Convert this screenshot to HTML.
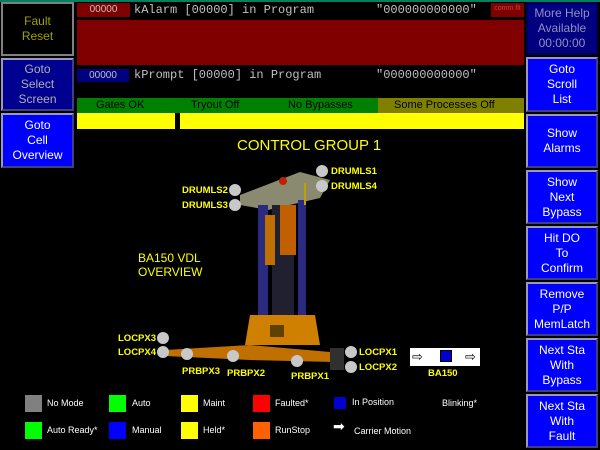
<!DOCTYPE html>
<html><head><meta charset="utf-8"><style>
*{margin:0;padding:0;box-sizing:border-box}
body{width:600px;height:450px;background:#000;position:relative;overflow:hidden;font-family:"Liberation Sans",sans-serif}
.a{position:absolute}
.btn{position:absolute;display:flex;align-items:center;justify-content:center;text-align:center;font-size:12px;line-height:15px;color:#fff;background:#0000ff;border:2px solid #9a9ab8;border-right-color:#404080;border-bottom-color:#404080}
.mono{font-family:"Liberation Mono",monospace;font-size:12px;color:#c0c0c0}
.lbl{position:absolute;color:#ffff00;font-size:9.5px;font-weight:bold}
.dot{position:absolute;width:12px;height:12px;border-radius:50%;background:#c8c8c8}
.sw{position:absolute;width:17px;height:17px}
.lt{position:absolute;color:#fff;font-size:9px}
</style></head><body>
<div class="a" style="left:0;top:0;width:600px;height:2px;background:#008060"></div>
<!-- left buttons -->
<div class="btn" style="left:1px;top:2px;width:73px;height:54px;background:#000;color:#a0a000;border-color:#808080">Fault<br>Reset</div>
<div class="btn" style="left:1px;top:58px;width:73px;height:53px;background:#000090;color:#b0b0b0">Goto<br>Select<br>Screen</div>
<div class="btn" style="left:1px;top:113px;width:73px;height:55px">Goto<br>Cell<br>Overview</div>
<!-- right buttons -->
<div class="btn" style="left:526px;top:2px;width:72px;height:53px;background:#000080;color:#9090c0;border-color:#000050;font-size:12px;line-height:15px">More Help<br>Available<br>00:00:00</div>
<div class="btn" style="left:526px;top:57px;width:72px;height:55px">Goto<br>Scroll<br>List</div>
<div class="btn" style="left:526px;top:114px;width:72px;height:54px">Show<br>Alarms</div>
<div class="btn" style="left:526px;top:170px;width:72px;height:54px">Show<br>Next<br>Bypass</div>
<div class="btn" style="left:526px;top:226px;width:72px;height:54px">Hit DO<br>To<br>Confirm</div>
<div class="btn" style="left:526px;top:282px;width:72px;height:54px">Remove<br>P/P<br>MemLatch</div>
<div class="btn" style="left:526px;top:338px;width:72px;height:54px">Next Sta<br>With<br>Bypass</div>
<div class="btn" style="left:526px;top:394px;width:72px;height:54px">Next Sta<br>With<br>Fault</div>
<!-- alarm -->
<div class="a" style="left:77px;top:3px;width:53px;height:14px;background:#800000;color:#c0c0c0;font-size:10px;text-align:center;line-height:14px">00000</div>
<div class="a mono" style="left:134px;top:3px;line-height:14px">kAlarm [00000] in Program</div>
<div class="a mono" style="left:376px;top:3px;line-height:14px">"000000000000"</div>
<div class="a" style="left:491px;top:3px;width:33px;height:14px;background:#800000;color:#c04040;font-size:7px;text-align:center;line-height:12px">comm flt</div>
<div class="a" style="left:77px;top:20px;width:447px;height:45px;background:#800000"></div>
<div class="a" style="left:77px;top:69px;width:52px;height:13px;background:#000080;color:#c0c0c0;font-size:10px;text-align:center;line-height:13px">00000</div>
<div class="a mono" style="left:134px;top:68px;line-height:14px">kPrompt [00000] in Program</div>
<div class="a mono" style="left:376px;top:68px;line-height:14px">"000000000000"</div>
<!-- status -->
<div class="a" style="left:77px;top:98px;width:301px;height:15px;background:#008000"></div>
<div class="a" style="left:378px;top:98px;width:146px;height:15px;background:#808000"></div>
<div class="a" style="left:96px;top:98px;font-size:11px;line-height:15px;color:#000">Gates OK</div>
<div class="a" style="left:191px;top:98px;font-size:11px;line-height:15px;color:#000">Tryout Off</div>
<div class="a" style="left:288px;top:98px;font-size:11px;line-height:15px;color:#000">No Bypasses</div>
<div class="a" style="left:394px;top:98px;font-size:11px;line-height:15px;color:#000">Some Processes Off</div>
<div class="a" style="left:77px;top:113px;width:98px;height:16px;background:#ffff00"></div>
<div class="a" style="left:180px;top:113px;width:344px;height:16px;background:#ffff00"></div>
<!-- title -->
<div class="a" style="left:237px;top:137px;color:#ffff00;font-size:15px">CONTROL GROUP 1</div>
<div class="a" style="left:138px;top:251px;color:#ffff00;font-size:12px;line-height:14px">BA150 VDL<br>OVERVIEW</div>
<!-- machine -->
<svg class="a" style="left:0;top:0" width="600" height="450">
<polygon points="240,195 300,172 330,180 320,198 268,210 240,205" fill="#8a8a70"/>
<rect x="258" y="205" width="10" height="120" fill="#2a2a80"/>
<rect x="298" y="200" width="8" height="125" fill="#2a2a80"/>
<rect x="272" y="205" width="22" height="115" fill="#202030"/>
<rect x="265" y="215" width="10" height="50" fill="#c07000"/>
<rect x="280" y="205" width="16" height="50" fill="#c06000"/>
<circle cx="283" cy="181" r="4" fill="#c02000"/>
<line x1="305" y1="183" x2="305" y2="205" stroke="#c0a000" stroke-width="2"/>
<polygon points="250,315 315,315 320,345 245,345" fill="#d08000"/>
<rect x="270" y="325" width="14" height="12" fill="#604000"/>
<polygon points="165,350 250,345 330,352 335,362 250,360 165,356" fill="#c07000"/>
<rect x="330" y="348" width="14" height="22" fill="#303030"/>
</svg>
<div class="dot" style="left:316px;top:165px"></div><div class="lbl" style="left:331px;top:166px">DRUMLS1</div>
<div class="dot" style="left:316px;top:180px"></div><div class="lbl" style="left:331px;top:181px">DRUMLS4</div>
<div class="dot" style="left:229px;top:184px"></div><div class="lbl" style="left:182px;top:185px">DRUMLS2</div>
<div class="dot" style="left:229px;top:199px"></div><div class="lbl" style="left:182px;top:200px">DRUMLS3</div>
<div class="dot" style="left:157px;top:332px"></div><div class="lbl" style="left:118px;top:333px">LOCPX3</div>
<div class="dot" style="left:157px;top:346px"></div><div class="lbl" style="left:118px;top:347px">LOCPX4</div>
<div class="dot" style="left:181px;top:348px"></div><div class="lbl" style="left:182px;top:366px">PRBPX3</div>
<div class="dot" style="left:227px;top:350px"></div><div class="lbl" style="left:227px;top:368px">PRBPX2</div>
<div class="dot" style="left:291px;top:355px"></div><div class="lbl" style="left:291px;top:371px">PRBPX1</div>
<div class="dot" style="left:345px;top:346px"></div><div class="lbl" style="left:359px;top:347px">LOCPX1</div>
<div class="dot" style="left:345px;top:361px"></div><div class="lbl" style="left:359px;top:362px">LOCPX2</div>
<div class="a" style="left:410px;top:348px;width:70px;height:18px;background:#fff"></div>
<div class="a" style="left:412px;top:351px;color:#000;font-size:13px;line-height:12px">⇨</div>
<div class="a" style="left:465px;top:351px;color:#000;font-size:13px;line-height:12px">⇨</div>
<div class="a" style="left:440px;top:350px;width:12px;height:12px;background:#0000d0;border:1px solid #000"></div>
<div class="lbl" style="left:428px;top:368px">BA150</div>
<!-- legend -->
<div class="sw" style="left:25px;top:395px;background:#808080"></div><div class="lt" style="left:47px;top:398px">No Mode</div>
<div class="sw" style="left:109px;top:395px;background:#00ff00"></div><div class="lt" style="left:132px;top:398px">Auto</div>
<div class="sw" style="left:181px;top:395px;background:#ffff00"></div><div class="lt" style="left:203px;top:398px">Maint</div>
<div class="sw" style="left:253px;top:395px;background:#ff0000"></div><div class="lt" style="left:275px;top:398px">Faulted*</div>
<div class="a" style="left:334px;top:397px;width:12px;height:12px;background:#0000d0"></div><div class="lt" style="left:352px;top:397px">In Position</div>
<div class="lt" style="left:442px;top:398px">Blinking*</div>
<div class="sw" style="left:25px;top:422px;background:#00ff00"></div><div class="lt" style="left:47px;top:425px">Auto Ready*</div>
<div class="sw" style="left:109px;top:422px;background:#0000ff"></div><div class="lt" style="left:132px;top:425px">Manual</div>
<div class="sw" style="left:181px;top:422px;background:#ffff00"></div><div class="lt" style="left:203px;top:425px">Held*</div>
<div class="sw" style="left:253px;top:422px;background:#ff6000"></div><div class="lt" style="left:275px;top:425px">RunStop</div>
<div class="a" style="left:333px;top:418px;color:#fff;font-size:14px">➡</div><div class="lt" style="left:354px;top:426px">Carrier Motion</div>
</body></html>
